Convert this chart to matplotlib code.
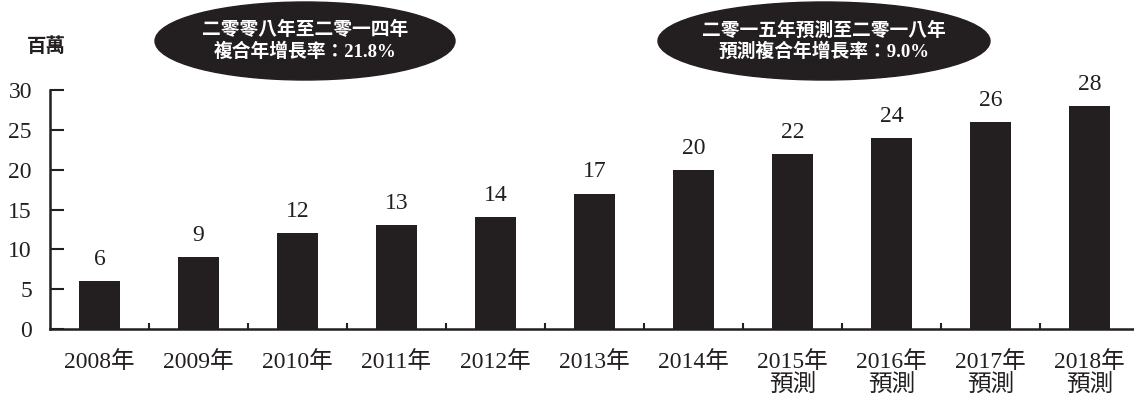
import matplotlib
matplotlib.use("Agg")
import matplotlib.pyplot as plt
from matplotlib.patches import Ellipse
import numpy as np

plt.rcParams['font.family'] = ['Liberation Serif', 'Noto Sans CJK TC']

years = ['2008年', '2009年', '2010年', '2011年', '2012年', '2013年', '2014年',
         '2015年\n預測', '2016年\n預測', '2017年\n預測', '2018年\n預測']
values = [6, 9, 12, 13, 14, 17, 20, 22, 24, 26, 28]
yticks = [0, 5, 10, 15, 20, 25, 30]
cagr_notes = ['二零零八年至二零一四年\n複合年增長率：21.8%',
              '二零一五年預測至二零一八年\n預測複合年增長率：9.0%']

ink = '#231f20'
W, H = 1134, 401

fig = plt.figure(figsize=(W / 100, H / 100), dpi=100)
ax = fig.add_axes([50 / W, 1 - 329 / H, 1 - 50 / W, (329 - 90) / H])

x = np.arange(len(values))
ax.bar(x, values, width=0.42, color=ink, zorder=2)
for xi, v in zip(x, values):
    ax.annotate(str(v), (xi, v), xytext=(0, 8), textcoords='offset points',
                ha='center', va='bottom', fontsize=17, color=ink)

ax.set_ylim(0, 30)
ax.set_xlim(-0.5, 10.45)
ax.set_yticks(yticks)
ax.set_xticks(x)
ax.set_xticklabels(years, fontsize=17, color=ink, linespacing=1.12)
ax.set_xticks(x[:-1] + 0.5, minor=True)
ax.tick_params(axis='x', which='major', length=0, pad=16)
ax.tick_params(axis='x', which='minor', direction='in', length=4, width=1.5, color=ink)
ax.tick_params(axis='y', direction='in', length=10, width=1.5, color=ink,
               labelsize=17, labelcolor=ink, pad=13)
for s in ['top', 'right']:
    ax.spines[s].set_visible(False)
for s in ['left', 'bottom']:
    ax.spines[s].set_linewidth(1.8)
    ax.spines[s].set_color(ink)

fig.text(46 / W, 1 - 47 / H, '百萬', family=['Noto Sans CJK TC'], weight='bold',
         fontsize=14, color=ink, ha='center', va='center')

for (cx, ew), note in zip([(305, 300), (824, 332)], cagr_notes):
    fig.add_artist(Ellipse((cx / W, 1 - 41 / H), ew / W, 78 / H,
                           transform=fig.transFigure, color=ink))
    fig.text(cx / W, 1 - 41 / H, note, family=['Liberation Serif', 'Noto Sans CJK TC'],
             weight='bold', fontsize=13.5, color='white', ha='center', va='center',
             linespacing=1.2)

fig.savefig('out.png', dpi=100)
